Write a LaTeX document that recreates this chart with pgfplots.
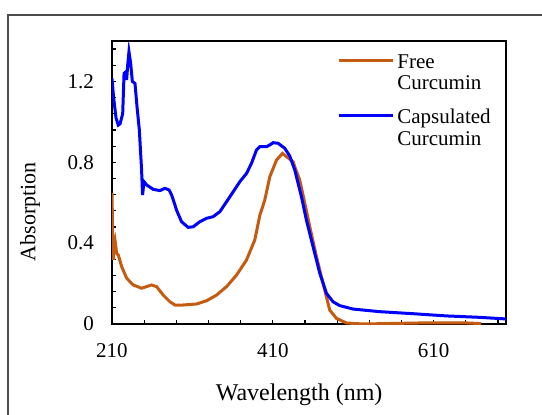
\documentclass[border=0pt]{standalone}
\usepackage{pgfplots}
\pgfplotsset{compat=1.18}
\usepackage{fontspec}
\setmainfont{Liberation Serif}
\definecolor{freec}{RGB}{197,90,17}
\definecolor{capc}{RGB}{0,0,255}
\begin{document}
\begin{tikzpicture}
\useasboundingbox (0,0) rectangle (271pt,207pt);
\clip (0,0) rectangle (271pt,207pt);
\draw[black!70, line width=0.6pt] (4pt,-10pt) rectangle (290pt,199.5pt);
\begin{axis}[
  at={(56pt,45pt)}, anchor=south west,
  scale only axis, width=197pt, height=141.5pt,
  xmin=210, xmax=700, ymin=0, ymax=1.4,
  font=\fontsize{10.5}{12}\selectfont,
  /pgf/number format/assume math mode=true,
  tick pos=left, tick align=inside,
  xtick={210,410,610}, xticklabels={210,410,610},
  minor xtick={250,290,330,370,450,490,530,570,650,690},
  ytick={0,0.4,0.8,1.2}, yticklabels={0,0.4,0.8,1.2},
  minor ytick={0.08,0.16,0.24,0.32,0.48,0.56,0.64,0.72,0.88,0.96,1.04,1.12,1.28,1.36},
  major tick length=2pt, minor tick length=2pt,
  every tick/.style={black, line width=0.6pt},
  axis line style={black, line width=0.75pt},
  xticklabel style={yshift=-6pt},
  yticklabel style={xshift=-5.5pt},
  xlabel={Wavelength (nm)}, ylabel={Absorption},
  xlabel style={font=\fontsize{12}{14}\selectfont, at={(axis description cs:0.475,-0.251)}, anchor=center},
  ylabel style={font=\fontsize{11}{13}\selectfont, at={(axis description cs:-0.208,0.396)}, anchor=center},
  legend cell align=left,
  legend style={at={(axis description cs:0.571,0.960)}, anchor=north west,
    draw=none, fill=none, inner sep=0pt, row sep=0.5pt, column sep=1.5pt,
    font=\fontsize{10.5}{12}\selectfont,
    nodes={inner sep=0pt, text height=7.9pt, text depth=2.3pt}},
  legend image code/.code={\draw[#1, line width=1.5pt] (0pt,1.2pt) -- (27pt,1.2pt);},
]
\addplot[freec, line width=1.5pt] coordinates {
(210,0.647) (210.8,0.45) (211.7,0.317) (212.7,0.40) (213.7,0.416) (215.8,0.35)
(217.9,0.341) (222,0.284) (228.3,0.226) (236.5,0.193) (246.8,0.177) (253,0.185)
(259.2,0.193) (265.4,0.185) (273.7,0.143) (282,0.110) (288.3,0.094) (298.6,0.094)
(315.1,0.099) (327.6,0.115) (340,0.143) (352.5,0.185) (364.9,0.242) (377.3,0.317)
(387.6,0.416) (394,0.54) (400,0.613) (406.3,0.729) (414.6,0.811) (422,0.844)
(427,0.828) (435.2,0.803) (437.3,0.778) (443.5,0.712) (449.8,0.597) (456,0.481)
(464.3,0.333) (472.5,0.201) (480.8,0.069) (489.1,0.028) (501.5,0.005) (521.7,0.0)
(563.7,0.003) (605,0.006) (646.4,0.006) (669,0.002)
};
\addlegendentry{Free}
\addlegendimage{empty legend}
\addlegendentry[text depth=8.5pt]{Curcumin}
\addplot[capc, line width=1.5pt] coordinates {
(210,1.215) (212,1.12) (215,1.02) (217.8,0.984) (220,0.99) (223.3,1.04) (225,1.24)
(227.4,1.248) (228.2,1.207) (229.5,1.28) (231.1,1.347) (233.2,1.29) (235.3,1.20)
(238.6,1.19) (241,1.08) (244,0.96) (246.8,0.762) (248,0.638) (249.8,0.704)
(253,0.688) (261.3,0.666) (269.6,0.66) (275.8,0.671) (281.1,0.663) (284.2,0.638)
(288.3,0.589) (290.2,0.564) (296.5,0.506) (304.8,0.478) (311,0.481) (319.2,0.506)
(327.6,0.523) (335.8,0.531) (344.2,0.556) (352.5,0.605) (360.7,0.654) (369,0.704)
(377.3,0.745) (383.5,0.795) (389.7,0.861) (393.9,0.877) (402.2,0.877) (406.3,0.886)
(410.4,0.897) (416.6,0.894) (424.9,0.869) (431.1,0.831) (437.3,0.762) (445.6,0.63)
(451.8,0.514) (460.1,0.382) (468.4,0.251) (476.7,0.152) (484.9,0.110) (493.2,0.091)
(509.8,0.074) (542.9,0.061) (584.3,0.051) (625.8,0.040) (667.1,0.033) (700,0.025)
};
\addlegendentry{Capsulated}
\addlegendimage{empty legend}
\addlegendentry{Curcumin}
\end{axis}
\end{tikzpicture}
\end{document}
